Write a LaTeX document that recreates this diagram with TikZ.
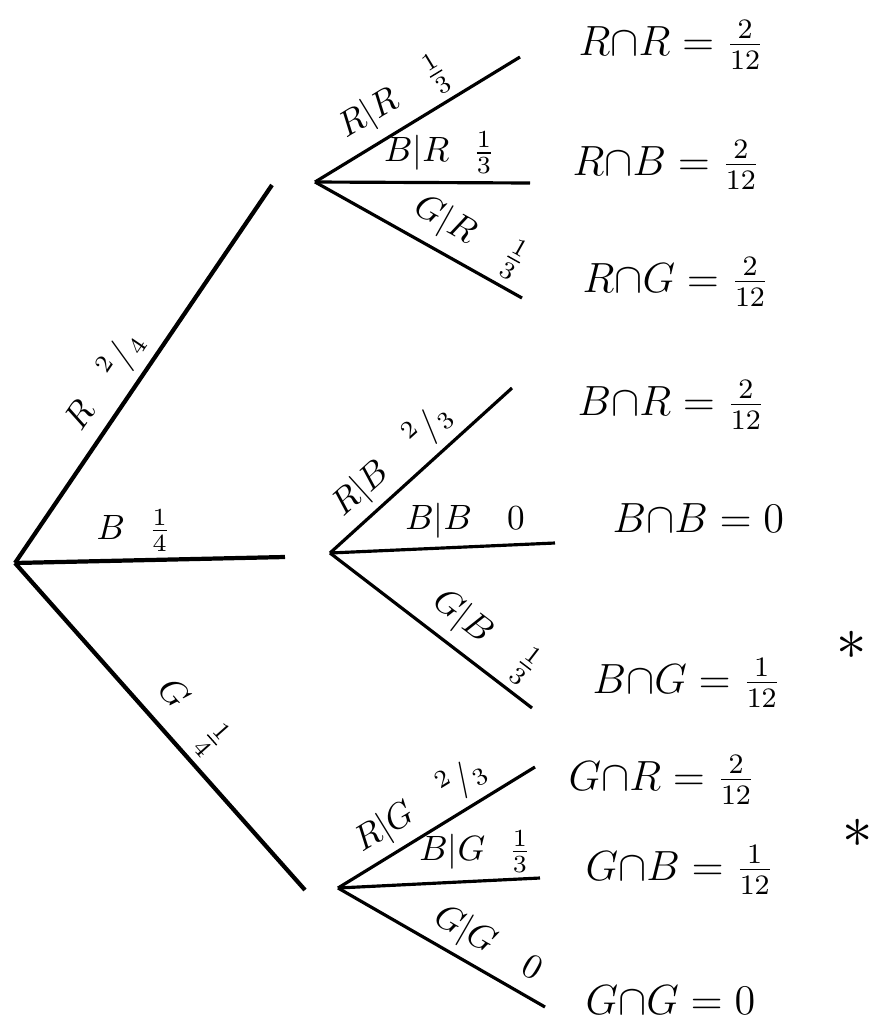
\documentclass[tikz,border=0pt]{standalone}
\usepackage{amsmath, amssymb}
\usepackage{tikz}
\usetikzlibrary{positioning, calc}

\begin{document}
\begin{tikzpicture}[x=0.01cm, y=-0.01cm,
    branch/.style={line width=1.2pt},
    subbranch/.style={line width=0.9pt},
    lbl/.style={font=\normalsize, inner sep=2pt},
    result/.style={anchor=west, font=\large, inner sep=0pt},
    star/.style={font=\fontsize{17}{17}\selectfont, inner sep=0pt}]
    \useasboundingbox (0,0) rectangle (876,1033);

    % Root and first level ends
    \coordinate (root) at (15,563);
    \coordinate (r1) at (272,185);
    \coordinate (b1) at (285,557);
    \coordinate (g1) at (305,890);

    % Second level starts
    \coordinate (r2) at (315,182);
    \coordinate (b2) at (330,553);
    \coordinate (g2) at (338,888);

    % Leaves
    \coordinate (rr) at (520,57);
    \coordinate (rb) at (530,183);
    \coordinate (rg) at (522,298);
    \coordinate (br) at (512,388);
    \coordinate (bb) at (555,543);
    \coordinate (bg) at (532,708);
    \coordinate (gr) at (535,767);
    \coordinate (gb) at (540,878);
    \coordinate (gg) at (545,1007);

    % First level
    \draw[branch] (root) -- node[lbl, sloped, above, pos=0.44] {$R\quad {}^{2}/_{4}$} (r1);
    \draw[branch] (root) -- node[lbl, above, pos=0.44] {$B\ \ \frac{1}{4}$} (b1);
    \draw[branch] (root) -- node[lbl, sloped, above, pos=0.53] {$G\quad \frac{1}{4}$} (g1);

    % Second level after R
    \draw[subbranch] (r2) -- node[lbl, sloped, above, pos=0.46] {$R|R\quad \frac{1}{3}$} (rr);
    \draw[subbranch] (r2) -- node[lbl, above, pos=0.58] {$B|R\ \ \frac{1}{3}$} (rb);
    \draw[subbranch] (r2) -- node[lbl, sloped, above, pos=0.68] {$G|R\quad \frac{1}{3}$} (rg);

    % Second level after B
    \draw[subbranch] (b2) -- node[lbl, sloped, above, pos=0.44] {$R|B\quad {}^{2}/_{3}$} (br);
    \draw[subbranch] (b2) -- node[lbl, above, pos=0.6] {$B|B\quad 0$} (bb);
    \draw[subbranch] (b2) -- node[lbl, sloped, above, pos=0.68] {$G|B\quad \frac{1}{3}$} (bg);

    % Second level after G
    \draw[subbranch] (g2) -- node[lbl, sloped, above, pos=0.49] {$R|G\quad {}^{2}/_{3}$} (gr);
    \draw[subbranch] (g2) -- node[lbl, above, pos=0.68] {$B|G\ \ \frac{1}{3}$} (gb);
    \draw[subbranch] (g2) -- node[lbl, sloped, above, pos=0.66] {$G|G\quad 0$} (gg);

    % Joint probabilities
    \node[result] (prr) at (578,45) {$R{\cap}R = \frac{2}{12}$};
    \node[result] (prb) at (572,165) {$R{\cap}B = \frac{2}{12}$};
    \node[result] (prg) at (582,282) {$R{\cap}G = \frac{2}{12}$};
    \node[result] (pbr) at (577,405) {$B{\cap}R = \frac{2}{12}$};
    \node[result] (pbb) at (612,518) {$B{\cap}B = 0$};
    \node[result] (pbg) at (592,683) {$B{\cap}G = \frac{1}{12}$};
    \node[result] (pgr) at (568,780) {$G{\cap}R = \frac{2}{12}$};
    \node[result] (pgb) at (585,870) {$G{\cap}B = \frac{1}{12}$};
    \node[result] (pgg) at (585,1000) {$G{\cap}G = 0$};

    % Marks
    \node[star] (s1) at (852,645) {$\ast$};
    \node[star] (s2) at (858,833) {$\ast$};
\end{tikzpicture}
\end{document}
